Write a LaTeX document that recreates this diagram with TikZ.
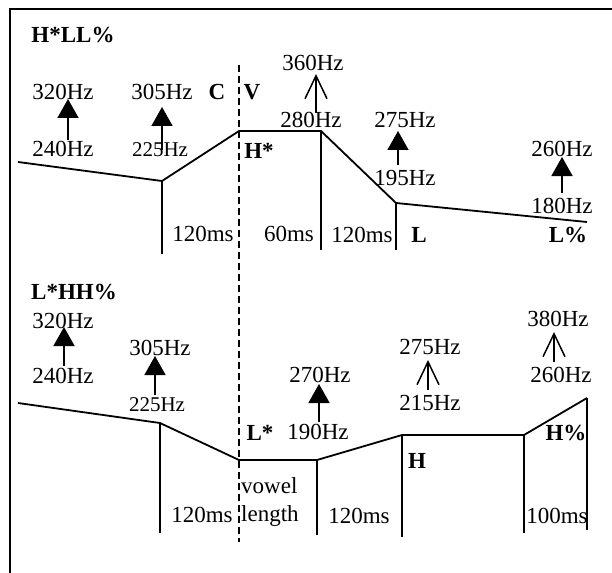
\documentclass[tikz,border=0pt]{standalone}
\usepackage{fontspec}
\setmainfont{Liberation Serif}
\usetikzlibrary{arrows.meta}
\tikzset{
	hz/.style      ={inner sep=0pt, anchor=base, font=\fontsize{23}{27}\selectfont},
	hzsmall/.style ={hz, font=\fontsize{21}{25}\selectfont},
	tone/.style    ={hz, font=\fontsize{23}{27}\selectfont\bfseries},
	vlen/.style    ={hz, anchor=base west},
	pitch/.style   ={line width=1.8pt, line join=miter},
	seg/.style     ={line width=1.8pt},
	steprise/.style={-{Triangle[length=19pt, width=21pt]}, line width=1.7pt},
	openrise/.style={-{Straight Barb[length=23pt, width=22pt, line width=1.5pt]}, line width=1.5pt},
	cvline/.style  ={line width=1.7pt, dash pattern=on 7pt off 4pt},
}
\begin{document}
\begin{tikzpicture}[x=1pt, y=-1pt]
	\useasboundingbox (0,0) rectangle (612,572);
	\draw[line width=2pt] (10,590) -- (10,9) -- (620,9);
	% consonant / vowel boundary
	\coordinate (cvtop) at (239,65);
	\coordinate (cvbot) at (239,542);
	\draw[cvline] (cvtop) -- (cvbot);

	% ---- H*LL% ----
	\node[tone] (uname) at (73,43) {H*LL\%};
	\node[tone] (ucons) at (217,100) {C};
	\node[tone] (uvow) at (252,100) {V};
	\coordinate (u0) at (18,162);
	\coordinate (u1) at (162,181);
	\coordinate (u2) at (239,131);
	\coordinate (u3) at (321,131);
	\coordinate (u4) at (396,203);
	\coordinate (u5) at (587,222);
	\draw[pitch] (u0) -- (u1) -- (u2) -- (u3) -- (u4) -- (u5);
	\coordinate (u1b) at (162,254);
	\coordinate (u3b) at (321,250);
	\coordinate (u4b) at (396,250);
	\draw[seg] (u1) -- (u1b);
	\draw[seg] (u3) -- (u3b);
	\draw[seg] (u4) -- (u4b);

	\node[hz] (uhi1) at (63,100) {320Hz};
	\node[hz] (ulo1) at (63,157) {240Hz};
	\coordinate (ua1) at (68,140);
	\coordinate (ub1) at (68,99);
	\draw[steprise] (ua1) -- (ub1);
	\node[hz] (uhi2) at (162,100) {305Hz};
	\node[hzsmall] (ulo2) at (160,157) {225Hz};
	\coordinate (ua2) at (162,150);
	\coordinate (ub2) at (162,107);
	\draw[steprise] (ua2) -- (ub2);
	\node[hz] (uhi3) at (313,71) {360Hz};
	\node[hz] (ulo3) at (311,128) {280Hz};
	\coordinate (ua3) at (316,113);
	\coordinate (ub3) at (316,74);
	\draw[openrise] (ua3) -- (ub3);
	\node[hz] (uhi4) at (405,128) {275Hz};
	\node[hz] (ulo4) at (405,185) {195Hz};
	\coordinate (ua4) at (398,165);
	\coordinate (ub4) at (398,131);
	\draw[steprise] (ua4) -- (ub4);
	\node[hz] (uhi5) at (562,157) {260Hz};
	\node[hz] (ulo5) at (562,213) {180Hz};
	\coordinate (ua5) at (562,193);
	\coordinate (ub5) at (562,157);
	\draw[steprise] (ua5) -- (ub5);

	\node[tone] (uhstar) at (259,158) {H*};
	\node[hz] (ums1) at (203,241) {120ms};
	\node[hz] (ums2) at (289,241) {60ms};
	\node[hz] (ums3) at (362,242) {120ms};
	\node[tone] (ulow) at (419,242) {L};
	\node[tone] (ubound) at (568,242) {L\%};

	% ---- L*HH% ----
	\node[tone] (lname) at (74,299) {L*HH\%};
	\coordinate (l0) at (18,403);
	\coordinate (l1) at (160,423);
	\coordinate (l2) at (239,460);
	\coordinate (l3) at (317,460);
	\coordinate (l4) at (402,435);
	\coordinate (l5) at (524,435);
	\coordinate (l6) at (587,398);
	\draw[pitch] (l0) -- (l1) -- (l2) -- (l3) -- (l4) -- (l5) -- (l6);
	\coordinate (l1b) at (160,533);
	\coordinate (l3b) at (317,535);
	\coordinate (l4b) at (402,537);
	\coordinate (l5b) at (524,533);
	\coordinate (l6b) at (587,530);
	\draw[seg] (l1) -- (l1b);
	\draw[seg] (l3) -- (l3b);
	\draw[seg] (l4) -- (l4b);
	\draw[seg] (l5) -- (l5b);
	\draw[seg] (l6) -- (l6b);

	\node[hz] (lhi1) at (63,328) {320Hz};
	\node[hz] (llo1) at (63,383) {240Hz};
	\coordinate (la1) at (64,366);
	\coordinate (lb1) at (64,327);
	\draw[steprise] (la1) -- (lb1);
	\node[hz] (lhi2) at (160,355) {305Hz};
	\node[hzsmall] (llo2) at (157,411) {225Hz};
	\coordinate (la2) at (155,395);
	\coordinate (lb2) at (155,356);
	\draw[steprise] (la2) -- (lb2);
	\node[hz] (lhi3) at (320,382) {270Hz};
	\node[hz] (llo3) at (318,439) {190Hz};
	\coordinate (la3) at (319,422);
	\coordinate (lb3) at (319,384);
	\draw[steprise] (la3) -- (lb3);
	\node[hz] (lhi4) at (430,354) {275Hz};
	\node[hz] (llo4) at (430,410) {215Hz};
	\coordinate (la4) at (428,390);
	\coordinate (lb4) at (428,360);
	\draw[openrise] (la4) -- (lb4);
	\node[hz] (lhi5) at (558,326) {380Hz};
	\node[hz] (llo5) at (561,382) {260Hz};
	\coordinate (la5) at (554,362);
	\coordinate (lb5) at (554,332);
	\draw[openrise] (la5) -- (lb5);

	\node[tone] (llstar) at (260,440) {L*};
	\node[tone] (lhigh) at (417,468) {H};
	\node[tone] (lbound) at (566,440) {H\%};
	\node[vlen] (lvow) at (241,493) {vowel};
	\node[vlen] (llen) at (241,521) {length};
	\node[hz] (lms1) at (202,522) {120ms};
	\node[hz] (lms2) at (359,523) {120ms};
	\node[hz] (lms3) at (557,523) {100ms};
\end{tikzpicture}
\end{document}
